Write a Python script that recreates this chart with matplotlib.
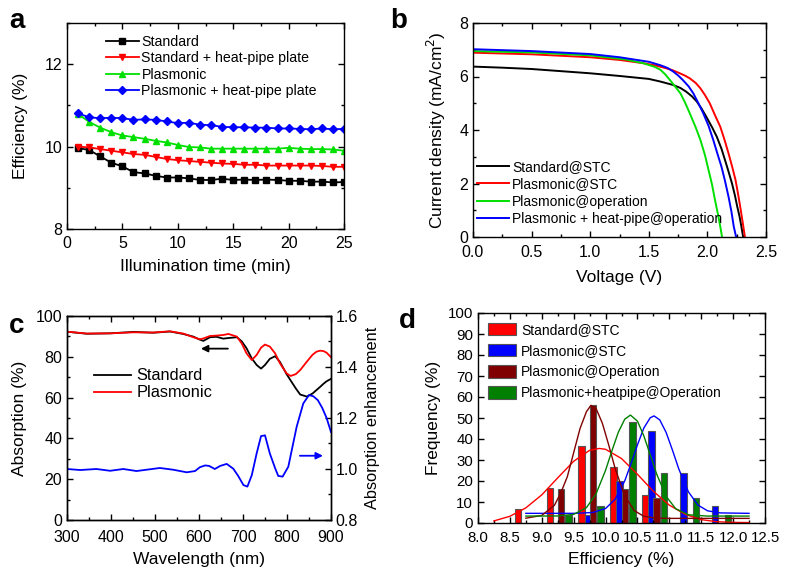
import matplotlib
matplotlib.use('Agg')
import matplotlib.pyplot as plt
from matplotlib.ticker import MultipleLocator, FormatStrFormatter

plt.rcParams['font.family'] = ['Liberation Sans', 'DejaVu Sans']
plt.rcParams['xtick.direction'] = 'in'
plt.rcParams['ytick.direction'] = 'in'
plt.rcParams['xtick.top'] = True
plt.rcParams['ytick.right'] = True
plt.rcParams['xtick.major.size'] = 4
plt.rcParams['ytick.major.size'] = 4
plt.rcParams['xtick.minor.size'] = 2
plt.rcParams['ytick.minor.size'] = 2
plt.rcParams['axes.linewidth'] = 1.0

TICK_FS = 11.5
LABEL_FS = 11.8

# ---------------- Panel a data ----------------
time_min = list(range(1, 26))
eff_standard = [9.96, 9.92, 9.76, 9.61, 9.52, 9.38, 9.35, 9.29, 9.25, 9.25, 9.23, 9.19, 9.19,
                9.22, 9.19, 9.2, 9.19, 9.2, 9.19, 9.17, 9.17, 9.15, 9.15, 9.13, 9.14]
eff_standard_hp = [10.0, 9.98, 9.94, 9.9, 9.86, 9.82, 9.8, 9.75, 9.7, 9.67, 9.65, 9.63, 9.61,
                   9.59, 9.58, 9.56, 9.56, 9.54, 9.54, 9.54, 9.54, 9.54, 9.53, 9.51, 9.51]
eff_plasmonic = [10.79, 10.6, 10.46, 10.35, 10.27, 10.23, 10.19, 10.14, 10.1, 10.04, 9.99, 9.98,
                 9.95, 9.95, 9.95, 9.95, 9.95, 9.95, 9.95, 9.97, 9.95, 9.94, 9.94, 9.93, 9.9]
eff_plasmonic_hp = [10.81, 10.71, 10.69, 10.7, 10.69, 10.65, 10.66, 10.65, 10.61, 10.57, 10.58,
                    10.53, 10.52, 10.48, 10.47, 10.47, 10.46, 10.46, 10.44, 10.44, 10.43, 10.42,
                    10.44, 10.42, 10.43]
labels_a = ['Standard', 'Standard + heat-pipe plate', 'Plasmonic', 'Plasmonic + heat-pipe plate']

# ---------------- Panel b data ----------------
v_std_stc = [0, 0.25, 0.5, 0.75, 1.0, 1.25, 1.5, 1.6, 1.71, 1.77, 1.82, 1.87, 1.91, 1.95, 1.99,
             2.04, 2.08, 2.12, 2.15, 2.18, 2.21, 2.235, 2.255, 2.275, 2.29, 2.305]
j_std_stc = [6.37, 6.33, 6.28, 6.2, 6.12, 6.02, 5.91, 5.81, 5.68, 5.57, 5.43, 5.25, 5.06, 4.8,
             4.5, 4.1, 3.75, 3.3, 2.88, 2.45, 2.0, 1.55, 1.13, 0.75, 0.39, 0]
v_pl_stc = [0, 0.5, 1.0, 1.25, 1.45, 1.55, 1.63, 1.7, 1.76, 1.81, 1.85, 1.9, 1.94, 1.98, 2.02,
            2.06, 2.11, 2.145, 2.18, 2.21, 2.24, 2.26, 2.28, 2.30, 2.32]
j_pl_stc = [6.89, 6.83, 6.72, 6.62, 6.5, 6.42, 6.33, 6.24, 6.13, 6.03, 5.93, 5.76, 5.56, 5.3,
            5.0, 4.6, 4.12, 3.65, 3.13, 2.65, 2.13, 1.65, 1.13, 0.58, 0]
v_pl_op = [0, 0.5, 1.0, 1.3, 1.45, 1.55, 1.6, 1.64, 1.68, 1.72, 1.77, 1.81, 1.85, 1.9, 1.94,
           1.98, 2.01, 2.04, 2.065, 2.09, 2.11, 2.125]
j_pl_op = [6.95, 6.9, 6.79, 6.64, 6.5, 6.36, 6.25, 6.08, 5.87, 5.65, 5.37, 5.02, 4.62, 4.1,
           3.63, 3.05, 2.5, 1.95, 1.38, 0.85, 0.39, 0]
v_plhp_op = [0, 0.5, 1.0, 1.25, 1.5, 1.6, 1.66, 1.71, 1.75, 1.79, 1.84, 1.88, 1.92, 1.965,
             2.01, 2.05, 2.09, 2.12, 2.15, 2.18, 2.205, 2.225, 2.245]
j_plhp_op = [7.02, 6.95, 6.84, 6.72, 6.55, 6.42, 6.32, 6.18, 6.04, 5.87, 5.63, 5.37, 5.03, 4.62,
             4.15, 3.63, 3.05, 2.63, 2.1, 1.51, 0.95, 0.39, 0]
labels_b = ['Standard@STC', 'Plasmonic@STC', 'Plasmonic@operation', 'Plasmonic + heat-pipe@operation']

# ---------------- Panel c data ----------------
wl_abs = [300, 345, 398, 451, 496, 534, 564, 587, 602, 610, 625, 640, 655, 667, 686, 697, 708,
          720, 731, 741, 750, 761, 773, 784, 799, 808, 820, 830, 845, 858, 867, 875, 883, 890, 900]
abs_standard = [92.3, 91.3, 91.5, 92.2, 91.8, 92.4, 91.2, 89.9, 88.4, 87.8, 89.6, 89.8, 88.9,
                89.2, 89.6, 87.6, 84.2, 79.2, 76.0, 74.2, 76.0, 79.0, 80.3, 77.5, 71.5, 68.5,
                64.5, 61.5, 60.5, 62.0, 63.7, 65.2, 66.8, 68.0, 69.2]
abs_plasmonic = [92.3, 91.4, 91.5, 92.0, 91.9, 92.5, 91.4, 89.6, 88.6, 89.0, 90.2, 90.4, 90.7,
                 91.2, 89.9, 86.6, 81.7, 78.4, 80.9, 84.5, 86.0, 85.0, 81.7, 76.8, 71.9, 70.6,
                 71.5, 73.5, 77.6, 81.0, 82.5, 83.0, 82.8, 82.0, 79.8]
wl_enh = [300, 330, 367, 398, 428, 458, 511, 542, 572, 591, 602, 614, 623, 636, 648, 663, 678,
          689, 701, 710, 720, 731, 741, 750, 761, 773, 780, 790, 803, 814, 822, 837, 850, 860,
          870, 880, 890, 900]
enhancement = [1.0, 0.996, 1.0, 0.993, 1.0, 0.992, 1.004, 0.997, 0.987, 0.992, 1.007, 1.014,
               1.012, 1.0, 1.012, 1.02, 1.001, 0.973, 0.937, 0.931, 0.976, 1.061, 1.129, 1.132,
               1.061, 1.003, 0.973, 0.970, 1.009, 1.1, 1.166, 1.257, 1.29, 1.285, 1.27, 1.24,
               1.2, 1.145]
labels_c = ['Standard', 'Plasmonic']

# ---------------- Panel d data ----------------
bin_std_stc = [8.625, 9.125, 9.625, 10.125, 10.625]
freq_std_stc = [6.67, 16.67, 36.67, 26.67, 13.33]
bin_pl_stc = [9.72, 10.22, 10.72, 11.22, 11.72]
freq_pl_stc = [4, 20, 44, 24, 8]
bin_pl_op = [9.3, 9.8, 10.3, 10.8]
freq_pl_op = [16, 56, 16, 12]
bin_plhp_op = [9.42, 9.92, 10.42, 10.92, 11.42, 11.92]
freq_plhp_op = [4, 8, 48, 24, 12, 4]
labels_d = ['Standard@STC', 'Plasmonic@STC', 'Plasmonic@Operation', 'Plasmonic+heatpipe@Operation']

# Fitted distribution curves
fit_x_std = [8.25, 8.5, 8.75, 9.0, 9.25, 9.5, 9.75, 9.9, 10.0, 10.25, 10.5, 10.75, 11.0, 11.25,
             11.5, 11.75, 12.0, 12.25]
fit_y_std = [1.0, 3.2, 7.2, 13.4, 21.5, 29.4, 34.6, 35.5, 35.1, 30.7, 23.2, 15.1, 8.5, 4.1, 1.6,
             0.6, 0.3, 0.2]
fit_x_plop = [8.75, 9.0, 9.2, 9.3, 9.4, 9.5, 9.6, 9.7, 9.77, 9.85, 9.95, 10.05, 10.15, 10.3,
              10.45, 10.6, 10.8, 11.0, 12.25]
fit_y_plop = [2.3, 3.6, 8.5, 14.5, 22.0, 33.5, 45.0, 53.0, 56.0, 54.6, 47.5, 37.1, 26.0, 13.0,
              5.9, 3.2, 2.3, 2.2, 2.2]
fit_x_plhp = [8.75, 9.25, 9.5, 9.7, 9.85, 10.0, 10.1, 10.2, 10.3, 10.39, 10.5, 10.6, 10.7, 10.8,
              10.95, 11.1, 11.3, 11.6, 12.25]
fit_y_plhp = [3.3, 3.35, 4.1, 7.3, 13.8, 25.1, 34.4, 43.2, 49.4, 51.4, 48.5, 41.5, 32.5, 23.4,
              12.7, 6.8, 3.9, 3.3, 3.3]
fit_x_plstc = [8.75, 9.5, 9.8, 10.0, 10.15, 10.3, 10.4, 10.5, 10.6, 10.7, 10.76, 10.85, 10.95,
               11.05, 11.15, 11.3, 11.45, 11.6, 11.8, 12.25]
fit_y_plstc = [4.6, 4.6, 5.0, 6.9, 11.3, 20.0, 28.3, 37.2, 45.2, 50.1, 51.0, 49.1, 43.1, 34.6,
               25.6, 14.8, 8.5, 5.8, 4.8, 4.6]

W, H = 787, 572
fig = plt.figure(figsize=(W / 100, H / 100), dpi=100)


def box(l, t, r, b):
    return [l / W, (H - b) / H, (r - l) / W, (b - t) / H]


def style(ax, fs=TICK_FS):
    ax.tick_params(labelsize=fs, width=1.0)
    ax.tick_params(which='minor', width=1.0)
    ax.tick_params(axis='x', which='major', pad=5)


# ---------------- Panel a ----------------
axa = fig.add_axes(box(67, 23, 344, 229))
axa.plot(time_min, eff_standard, '-s', color='black', ms=4.2, lw=1.3, label=labels_a[0])
axa.plot(time_min, eff_standard_hp, '-v', color='#ff0000', ms=4.8, lw=1.3, label=labels_a[1])
axa.plot(time_min, eff_plasmonic, '-^', color='#00e000', ms=4.8, lw=1.3, label=labels_a[2])
axa.plot(time_min, eff_plasmonic_hp, '-D', color='#0000ff', ms=4.2, lw=1.3, label=labels_a[3])
axa.set_xlim(0, 25)
axa.set_ylim(8, 13)
axa.set_yticks([8, 10, 12])
axa.xaxis.set_major_locator(MultipleLocator(5))
axa.xaxis.set_minor_locator(MultipleLocator(2.5))
axa.yaxis.set_minor_locator(MultipleLocator(1))
axa.set_xlabel('Illumination time (min)', fontsize=LABEL_FS + 0.7, labelpad=6)
axa.set_ylabel('Efficiency (%)', fontsize=LABEL_FS + 0.7, labelpad=12)
style(axa)
axa.legend(loc='upper left', bbox_to_anchor=(0.105, 0.99), frameon=False, fontsize=10.2,
           handlelength=2.3, handletextpad=0.2, labelspacing=0.17, borderaxespad=0.3)

# ---------------- Panel b ----------------
axb = fig.add_axes(box(473, 23, 766, 237))
axb.plot(v_std_stc, j_std_stc, color='black', lw=1.4, label=labels_b[0])
axb.plot(v_pl_stc, j_pl_stc, color='#ff0000', lw=1.4, label=labels_b[1])
axb.plot(v_pl_op, j_pl_op, color='#00e000', lw=1.4, label=labels_b[2])
axb.plot(v_plhp_op, j_plhp_op, color='#0000ff', lw=1.4, label=labels_b[3])
axb.set_xlim(0, 2.5)
axb.set_ylim(0, 8)
axb.xaxis.set_major_locator(MultipleLocator(0.5))
axb.xaxis.set_minor_locator(MultipleLocator(0.25))
axb.yaxis.set_major_locator(MultipleLocator(2))
axb.yaxis.set_minor_locator(MultipleLocator(1))
axb.xaxis.set_major_formatter(FormatStrFormatter('%.1f'))
axb.set_xlabel('Voltage (V)', fontsize=LABEL_FS + 0.7, labelpad=7)
axb.set_ylabel('Current density (mA/cm$^2$)', fontsize=LABEL_FS + 0.7, labelpad=8)
style(axb)
axb.tick_params(axis='x', which='major', pad=6)
axb.legend(loc='lower left', bbox_to_anchor=(-0.025, 0.0), frameon=False, fontsize=10,
           handlelength=2.3, handletextpad=0.25, labelspacing=0.24, borderaxespad=0.4)

# ---------------- Panel c ----------------
axc = fig.add_axes(box(67, 316, 331, 520))
axc.plot(wl_abs, abs_standard, color='black', lw=1.3, label=labels_c[0])
axc.plot(wl_abs, abs_plasmonic, color='#ff0000', lw=1.3, label=labels_c[1])
axc.set_xlim(300, 900)
axc.set_ylim(0, 100)
axc.xaxis.set_major_locator(MultipleLocator(100))
axc.xaxis.set_minor_locator(MultipleLocator(50))
axc.yaxis.set_major_locator(MultipleLocator(20))
axc.yaxis.set_minor_locator(MultipleLocator(10))
axc.set_xlabel('Wavelength (nm)', fontsize=LABEL_FS + 0.7, labelpad=5)
axc.set_ylabel('Absorption (%)', fontsize=LABEL_FS + 0.7, labelpad=6)
style(axc)
axc.tick_params(axis='x', which='major', pad=7)
axc.tick_params(axis='y', which='both', right=False)
axc.legend(loc='upper left', bbox_to_anchor=(0.045, 0.815), frameon=False, fontsize=11.8,
           handlelength=2.3, handletextpad=0.3, labelspacing=0.12)
axc.annotate('', xy=(598, 84), xytext=(672, 84),
             arrowprops=dict(arrowstyle='-|>', color='black', lw=1.3, mutation_scale=10))
axc.annotate('', xy=(888, 31.5), xytext=(823, 31.5),
             arrowprops=dict(arrowstyle='-|>', color='#0000ff', lw=1.3, mutation_scale=10))

axc2 = axc.twinx()
axc2.plot(wl_enh, enhancement, color='#0000ff', lw=1.3)
axc2.set_ylim(0.8, 1.6)
axc2.yaxis.set_major_locator(MultipleLocator(0.2))
axc2.yaxis.set_minor_locator(MultipleLocator(0.1))
axc2.set_ylabel('Absorption enhancement', fontsize=LABEL_FS, labelpad=5)
axc2.tick_params(labelsize=TICK_FS, width=1.0)
axc2.tick_params(which='minor', width=1.0)
axc2.tick_params(axis='x', which='both', top=False, bottom=False)

# ---------------- Panel d ----------------
axd = fig.add_axes(box(478, 313, 765, 523))
bw = 0.1
kw = dict(width=bw, edgecolor='#555555', linewidth=0.8)
axd.bar(bin_std_stc, freq_std_stc, color='#ff0000', label=labels_d[0], **kw)
axd.bar(bin_pl_stc, freq_pl_stc, color='#0000ff', label=labels_d[1], **kw)
axd.bar(bin_pl_op, freq_pl_op, color='#800000', label=labels_d[2], **kw)
axd.bar(bin_plhp_op, freq_plhp_op, color='#008000', label=labels_d[3], **kw)
axd.plot(fit_x_std, fit_y_std, color='#ff0000', lw=1.0)
axd.plot(fit_x_plstc, fit_y_plstc, color='#0000ff', lw=1.0)
axd.plot(fit_x_plop, fit_y_plop, color='#800000', lw=1.0)
axd.plot(fit_x_plhp, fit_y_plhp, color='#008000', lw=1.0)
axd.set_xlim(8.0, 12.5)
axd.set_ylim(0, 100)
axd.xaxis.set_major_locator(MultipleLocator(0.5))
axd.xaxis.set_minor_locator(MultipleLocator(0.25))
axd.yaxis.set_major_locator(MultipleLocator(10))
axd.xaxis.set_major_formatter(FormatStrFormatter('%.1f'))
axd.set_xlabel('Efficiency (%)', fontsize=LABEL_FS + 0.7, labelpad=5)
axd.set_ylabel('Frequency (%)', fontsize=LABEL_FS + 0.7, labelpad=5)
style(axd, fs=10.8)
axd.tick_params(axis='x', which='major', pad=6)
axd.legend(loc='upper left', bbox_to_anchor=(0.0, 1.0), frameon=False, fontsize=10,
           handlelength=2.05, handleheight=1.0, handletextpad=0.35, labelspacing=0.52,
           borderaxespad=0.3)

# ---------------- Panel letters ----------------
for letter, x, y in [('a', 9, 28), ('b', 390, 28), ('c', 9, 333), ('d', 399, 328)]:
    fig.text(x / W, (H - y) / H, letter, fontsize=20, fontweight='bold', ha='left', va='baseline')

fig.savefig('out.png', dpi=100)
